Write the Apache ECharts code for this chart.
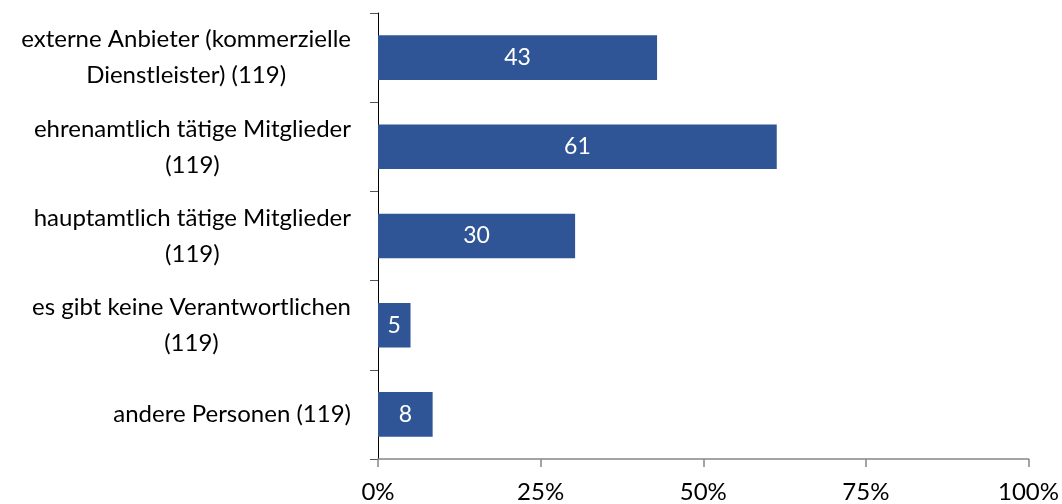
<!DOCTYPE html>
<html><head><meta charset="utf-8">
<script src="https://cdn.jsdelivr.net/npm/echarts@6/dist/echarts.min.js"></script>
<style>html,body{margin:0;padding:0;background:#fff}#c{width:1062px;height:504px}</style>
</head><body><div id="c"></div>
<script>
const categories = [
  "externe Anbieter (kommerzielle\nDienstleister) (119)",
  "ehrenamtlich tätige Mitglieder\n(119)",
  "hauptamtlich tätige Mitglieder\n(119)",
  "es gibt keine Verantwortlichen\n(119)",
  "andere Personen (119)"
];
const values = [42.9, 61.3, 30.3, 5.0, 8.4];
const xTicks = [0, 25, 50, 75, 100];

const FONT = "Lato, 'Open Sans', sans-serif";
const chart = echarts.init(document.getElementById('c'), null, {renderer: 'canvas'});
chart.setOption({
  animation: false,
  grid: {left: 378, right: 33, top: 13, bottom: 45, containLabel: false},
  xAxis: {
    type: 'value', min: xTicks[0], max: xTicks[xTicks.length - 1], interval: 25,
    axisLine: {show: true, lineStyle: {color: '#868686', width: 1.5}},
    axisTick: {show: true, length: 8, lineStyle: {color: '#868686', width: 1.5}},
    splitLine: {show: false},
    axisLabel: {formatter: '{value}%', color: '#000', fontSize: 24, fontFamily: FONT, margin: 21}
  },
  yAxis: {
    type: 'category', data: categories, inverse: true,
    axisLine: {show: true, lineStyle: {color: '#000', width: 1}},
    axisTick: {show: true, length: 8, alignWithLabel: false, lineStyle: {color: '#555', width: 1}},
    axisLabel: {
      margin: 27, color: '#000', fontSize: 24, fontFamily: FONT,
      formatter: v => v.split('\n').map(s => '{a|' + s + '}').join('\n'),
      rich: {a: {align: 'center', fontSize: 24, fontFamily: FONT, color: '#000', lineHeight: 36}}
    }
  },
  series: [{
    type: 'bar', data: values, barCategoryGap: '50%',
    itemStyle: {color: '#2F5597'},
    label: {show: true, position: 'inside', color: '#fff', fontSize: 23, fontFamily: FONT,
      formatter: p => Math.round(p.value)}
  }]
});
</script></body></html>
